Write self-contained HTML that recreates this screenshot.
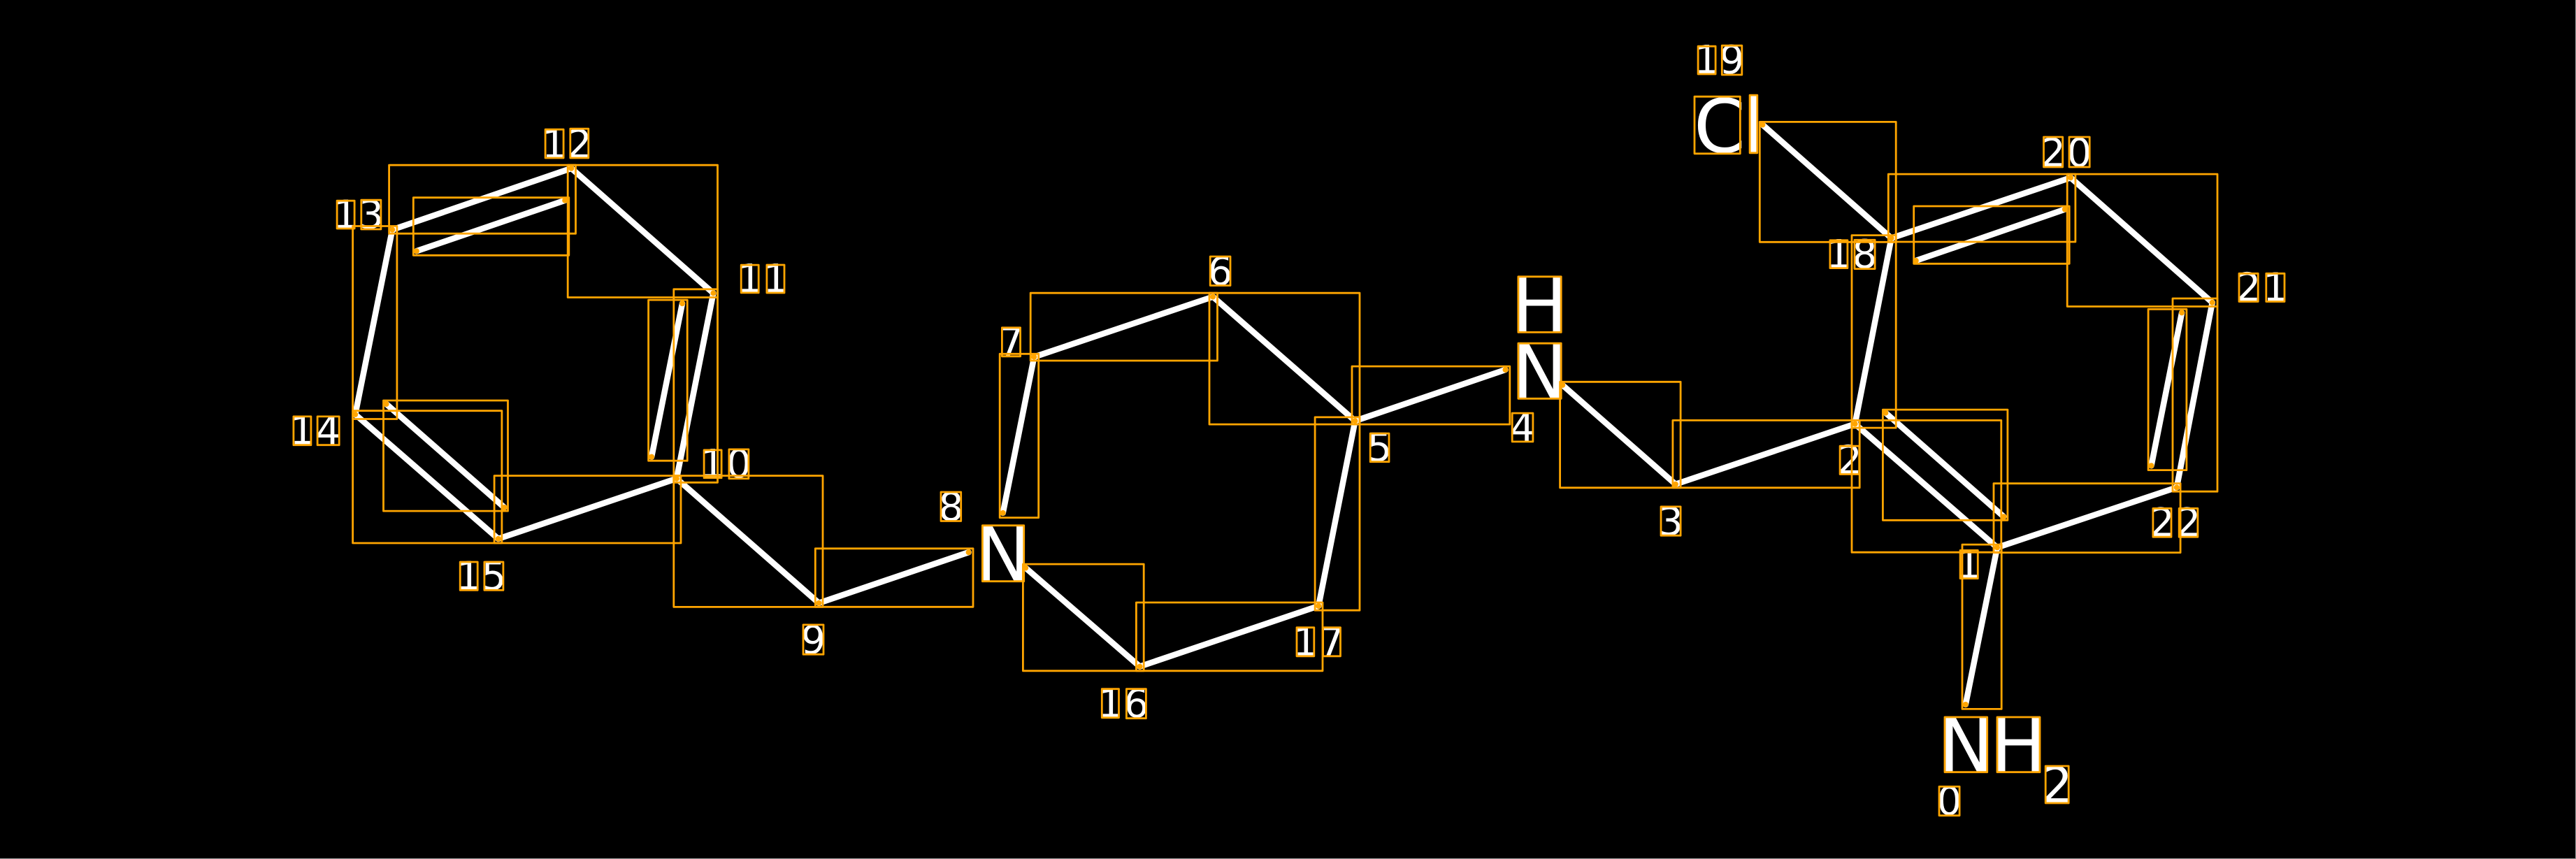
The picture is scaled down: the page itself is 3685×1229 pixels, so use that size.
<!DOCTYPE html>
<html lang="en">
<head>
<meta charset="utf-8">
<title>Molecule diagram</title>
<style>
html,body{margin:0;padding:0;background:#000;}
svg{display:block;}
text{font-family:"DejaVu Sans",sans-serif;fill:#fff;text-anchor:middle;}
.d{font-size:56px;}
.a{font-size:106px;}
.s{font-size:71px;}
.b line{stroke:#fff;stroke-width:8.5;stroke-linecap:round;}
.r rect{fill:none;stroke:#ffa500;stroke-width:2.8;stroke-linejoin:round;}
.g rect{fill:none;stroke:#ffa500;stroke-width:2.8;stroke-linejoin:round;}
.p circle{fill:#ffa500;}
</style>
</head>
<body>
<svg width="3685" height="1229" viewBox="0 0 3685 1229" xmlns="http://www.w3.org/2000/svg">
<rect x="0" y="0" width="3685" height="1229" fill="#000"/>
<rect x="3684" y="0" width="1" height="1229" fill="#999"/>
<rect x="0" y="1228" width="3685" height="1" fill="#999"/>

<!-- labels -->
<g>
<text class="d" x="793 829" y="225.5">12</text>
<text class="d" x="494.5 531" y="326.5">13</text>
<text class="d" x="1072.5 1109.5" y="418">11</text>
<text class="d" x="432.5 469.5" y="635.5">14</text>
<text class="d" x="1019.5 1057" y="683">10</text>
<text class="d" x="670.5 706.5" y="843.5">15</text>
<text class="d" x="1163.5" y="935">9</text>
<text class="d" x="1745.5" y="407.5">6</text>
<text class="d" x="1446.5" y="509">7</text>
<text class="d" x="1360.5" y="744.5">8</text>
<text class="d" x="1973.5" y="659.5">5</text>
<text class="d" x="2178" y="631">4</text>
<text class="d" x="1867.5 1905" y="938">17</text>
<text class="d" x="1588.5 1625.5" y="1026">16</text>
<text class="d" x="2441.5 2477.5" y="105">19</text>
<text class="d" x="2630.5 2667.5" y="383">18</text>
<text class="d" x="2646" y="677.5">2</text>
<text class="d" x="2390" y="765.5">3</text>
<text class="d" x="2816.5" y="827">1</text>
<text class="d" x="2937 2974.5" y="238">20</text>
<text class="d" x="3216.5 3255" y="430.5">21</text>
<text class="d" x="3093 3130.5" y="767">22</text>
<text class="d" x="2788.5" y="1165.5">0</text>
<text class="a" x="1435" y="830.5">N</text>
<text class="a" x="2202.5" y="474.5">H</text>
<text class="a" x="2202.5" y="569.5">N</text>
<text class="a" x="2460 2508.5" y="218">Cl</text>
<text class="a" x="2812.5 2887.5" y="1103.5">NH</text>
<text class="s" x="2942.5" y="1148">2</text>
</g>

<!-- bonds -->
<g class="b">
<line x1="817.3" y1="240.8" x2="561.2" y2="328.6"/>
<line x1="595.9" y1="359.2" x2="808.2" y2="286.7"/>
<line x1="817.3" y1="240.8" x2="1020.4" y2="419.4"/>
<line x1="1020.4" y1="419.4" x2="967.9" y2="684.7"/>
<line x1="976" y1="434.2" x2="932.1" y2="653.6"/>
<line x1="561.2" y1="328.6" x2="508.2" y2="592.9"/>
<line x1="508.2" y1="592.9" x2="712.8" y2="770.9"/>
<line x1="552.6" y1="578" x2="721.4" y2="726"/>
<line x1="712.8" y1="770.9" x2="967.9" y2="684.7"/>
<line x1="967.9" y1="684.7" x2="1171.4" y2="862.8"/>
<line x1="1171.4" y1="862.8" x2="1385.6" y2="790.2"/>
<line x1="1467.2" y1="812.5" x2="1630.5" y2="953.6"/>
<line x1="1630.5" y1="953.6" x2="1886.2" y2="867"/>
<line x1="1886.2" y1="867" x2="1938.5" y2="602.2"/>
<line x1="1938.5" y1="602.2" x2="1735.1" y2="424.6"/>
<line x1="1735.1" y1="424.6" x2="1479.3" y2="510.7"/>
<line x1="1479.3" y1="510.7" x2="1434.7" y2="733.9"/>
<line x1="1938.5" y1="602.2" x2="2153.5" y2="529"/>
<line x1="2235.2" y1="550.9" x2="2396.9" y2="692.8"/>
<line x1="2396.9" y1="692.8" x2="2653.6" y2="606.5"/>
<line x1="2653.6" y1="606.5" x2="2705.6" y2="340.7"/>
<line x1="2521.4" y1="178.5" x2="2705.6" y2="340.7"/>
<line x1="2705.6" y1="340.7" x2="2962.1" y2="254.2"/>
<line x1="2740.8" y1="372.9" x2="2953.9" y2="299.5"/>
<line x1="2962.1" y1="254.2" x2="3164.7" y2="432.8"/>
<line x1="3164.7" y1="432.8" x2="3113.8" y2="697.4"/>
<line x1="3121.1" y1="447.4" x2="3077.5" y2="666.2"/>
<line x1="3113.8" y1="697.4" x2="2857" y2="783.3"/>
<line x1="2857" y1="783.3" x2="2653.6" y2="606.5"/>
<line x1="2697.4" y1="590.7" x2="2866.3" y2="739.2"/>
<line x1="2857" y1="783.3" x2="2811.8" y2="1008"/>
</g>

<!-- bond boxes -->
<g class="r">
<rect x="556.6" y="236.2" width="266.9" height="98"/>
<rect x="812.2" y="236.2" width="214.3" height="189.3"/>
<rect x="504.6" y="323.5" width="63.3" height="276"/>
<rect x="504.6" y="587.7" width="213.3" height="189.3"/>
<rect x="707.1" y="680.6" width="266.9" height="96.4"/>
<rect x="963.8" y="413.8" width="62.7" height="276.5"/>
<rect x="963.8" y="680.6" width="213.2" height="187.8"/>
<rect x="591.3" y="282.7" width="222.5" height="82.6"/>
<rect x="927.6" y="429.1" width="55.6" height="230.1"/>
<rect x="548.5" y="573" width="178" height="158.1"/>
<rect x="1166.3" y="784.8" width="225.7" height="83.5"/>
<rect x="1430.2" y="506.3" width="55.5" height="234.3"/>
<rect x="1474.2" y="419.2" width="267.3" height="96.8"/>
<rect x="1730" y="419.2" width="215" height="187.9"/>
<rect x="1934" y="524.1" width="225.8" height="83"/>
<rect x="1881.1" y="596.9" width="63.9" height="276.3"/>
<rect x="1625.4" y="862" width="266.6" height="97.8"/>
<rect x="1463.4" y="807.1" width="172.8" height="152.7"/>
<rect x="2517.3" y="174.4" width="194.9" height="171.9"/>
<rect x="2649" y="336.6" width="63.2" height="275.5"/>
<rect x="2231.6" y="546.3" width="172.5" height="151.5"/>
<rect x="2392.9" y="601.4" width="267.3" height="96.4"/>
<rect x="2649" y="601.4" width="213.8" height="188.8"/>
<rect x="2693.4" y="586.1" width="178.5" height="158.2"/>
<rect x="2701.3" y="249.1" width="267.6" height="96.9"/>
<rect x="2957.2" y="249.1" width="214.8" height="189.4"/>
<rect x="2737.7" y="295" width="222.5" height="82.3"/>
<rect x="3108" y="427" width="64" height="276.2"/>
<rect x="3073.1" y="442.3" width="54.8" height="230.3"/>
<rect x="2852" y="691.7" width="267.1" height="98.9"/>
<rect x="2807" y="779.1" width="56.2" height="235.3"/>
</g>

<!-- bond endpoints -->
<g class="p">
<circle cx="817.3" cy="240.8" r="4"/><circle cx="561.2" cy="328.6" r="4"/><circle cx="595.9" cy="359.2" r="4"/><circle cx="808.2" cy="286.7" r="4"/>
<circle cx="1020.4" cy="419.4" r="4"/><circle cx="967.9" cy="684.7" r="4"/><circle cx="976" cy="434.2" r="4"/><circle cx="932.1" cy="653.6" r="4"/>
<circle cx="508.2" cy="592.9" r="4"/><circle cx="712.8" cy="770.9" r="4"/><circle cx="552.6" cy="578" r="4"/><circle cx="721.4" cy="726" r="4"/>
<circle cx="1171.4" cy="862.8" r="4"/><circle cx="1385.6" cy="790.2" r="4"/><circle cx="1467.2" cy="812.5" r="4"/><circle cx="1630.5" cy="953.6" r="4"/>
<circle cx="1886.2" cy="867" r="4"/><circle cx="1938.5" cy="602.2" r="4"/><circle cx="1735.1" cy="424.6" r="4"/><circle cx="1479.3" cy="510.7" r="4"/>
<circle cx="1434.7" cy="733.9" r="4"/><circle cx="2153.5" cy="529" r="4"/><circle cx="2235.2" cy="550.9" r="4"/><circle cx="2396.9" cy="692.8" r="4"/>
<circle cx="2653.6" cy="606.5" r="4"/><circle cx="2705.6" cy="340.7" r="4"/><circle cx="2521.4" cy="178.5" r="4"/><circle cx="2962.1" cy="254.2" r="4"/>
<circle cx="2740.8" cy="372.9" r="4"/><circle cx="2953.9" cy="299.5" r="4"/><circle cx="3164.7" cy="432.8" r="4"/><circle cx="3113.8" cy="697.4" r="4"/>
<circle cx="3121.1" cy="447.4" r="4"/><circle cx="3077.5" cy="666.2" r="4"/><circle cx="2857" cy="783.3" r="4"/><circle cx="2697.4" cy="590.7" r="4"/>
<circle cx="2866.3" cy="739.2" r="4"/><circle cx="2811.8" cy="1008" r="4"/>
</g>

<!-- glyph boxes -->
<g class="g">
<rect x="780.1" y="185.2" width="26" height="40.8"/><rect x="815.8" y="184.2" width="26" height="41.8"/>
<rect x="482.1" y="287.2" width="25" height="39.8"/><rect x="516.8" y="286.2" width="28.1" height="41.8"/>
<rect x="1060.2" y="379.1" width="25" height="39.8"/><rect x="1096.9" y="379" width="25.1" height="40"/>
<rect x="419.9" y="595.9" width="25" height="40.8"/><rect x="454.1" y="595.9" width="31.1" height="40.8"/>
<rect x="1007.1" y="643.9" width="25" height="39.8"/><rect x="1042.9" y="642.9" width="28" height="41.8"/>
<rect x="658.2" y="804" width="25" height="40.4"/><rect x="692.9" y="804" width="27" height="40.4"/>
<rect x="1149" y="893.9" width="29" height="42.3"/>
<rect x="1731.2" y="367" width="28.8" height="41.5"/>
<rect x="1433.4" y="468.8" width="26.2" height="41"/>
<rect x="1346" y="704" width="28.7" height="41.5"/>
<rect x="1405.4" y="751.8" width="59.3" height="79.9"/>
<rect x="1960.2" y="620.1" width="26.8" height="40.6"/>
<rect x="2163.2" y="591.1" width="29.7" height="40.8"/>
<rect x="2171.9" y="395.8" width="61.3" height="79.6"/>
<rect x="2171.9" y="491.2" width="61.3" height="79.1"/>
<rect x="1855" y="897.8" width="24.8" height="41"/><rect x="1892.6" y="897.8" width="24.9" height="41"/>
<rect x="1576.3" y="985.7" width="24.2" height="41.1"/><rect x="1611.4" y="985.7" width="28" height="42"/>
<rect x="2429.1" y="66.2" width="25" height="39.8"/><rect x="2463.3" y="65.2" width="28.5" height="41.8"/>
<rect x="2424" y="138.2" width="65.3" height="81.6"/><rect x="2503.1" y="136.1" width="10.7" height="82.7"/>
<rect x="2617.9" y="343.8" width="25" height="39.8"/><rect x="2653" y="343.3" width="29.1" height="41.3"/>
<rect x="2632.1" y="638.2" width="27.6" height="40.3"/>
<rect x="2376" y="724.9" width="28.1" height="41.3"/>
<rect x="2804.1" y="787.4" width="25.2" height="40.2"/>
<rect x="2923.5" y="196" width="27.2" height="43"/><rect x="2960" y="196" width="29.2" height="43"/>
<rect x="3203" y="391.3" width="27.2" height="40.2"/><rect x="3241.8" y="391.3" width="26.2" height="40.2"/>
<rect x="3079.9" y="727.4" width="26.1" height="40.8"/><rect x="3117.2" y="727.4" width="26.7" height="40.8"/>
<rect x="2782" y="1026" width="60.7" height="78.7"/><rect x="2857" y="1026" width="61" height="78.7"/>
<rect x="2926.2" y="1096" width="33" height="53"/>
<rect x="2774" y="1125.4" width="29.1" height="41.4"/>
</g>
</svg>
</body>
</html>
